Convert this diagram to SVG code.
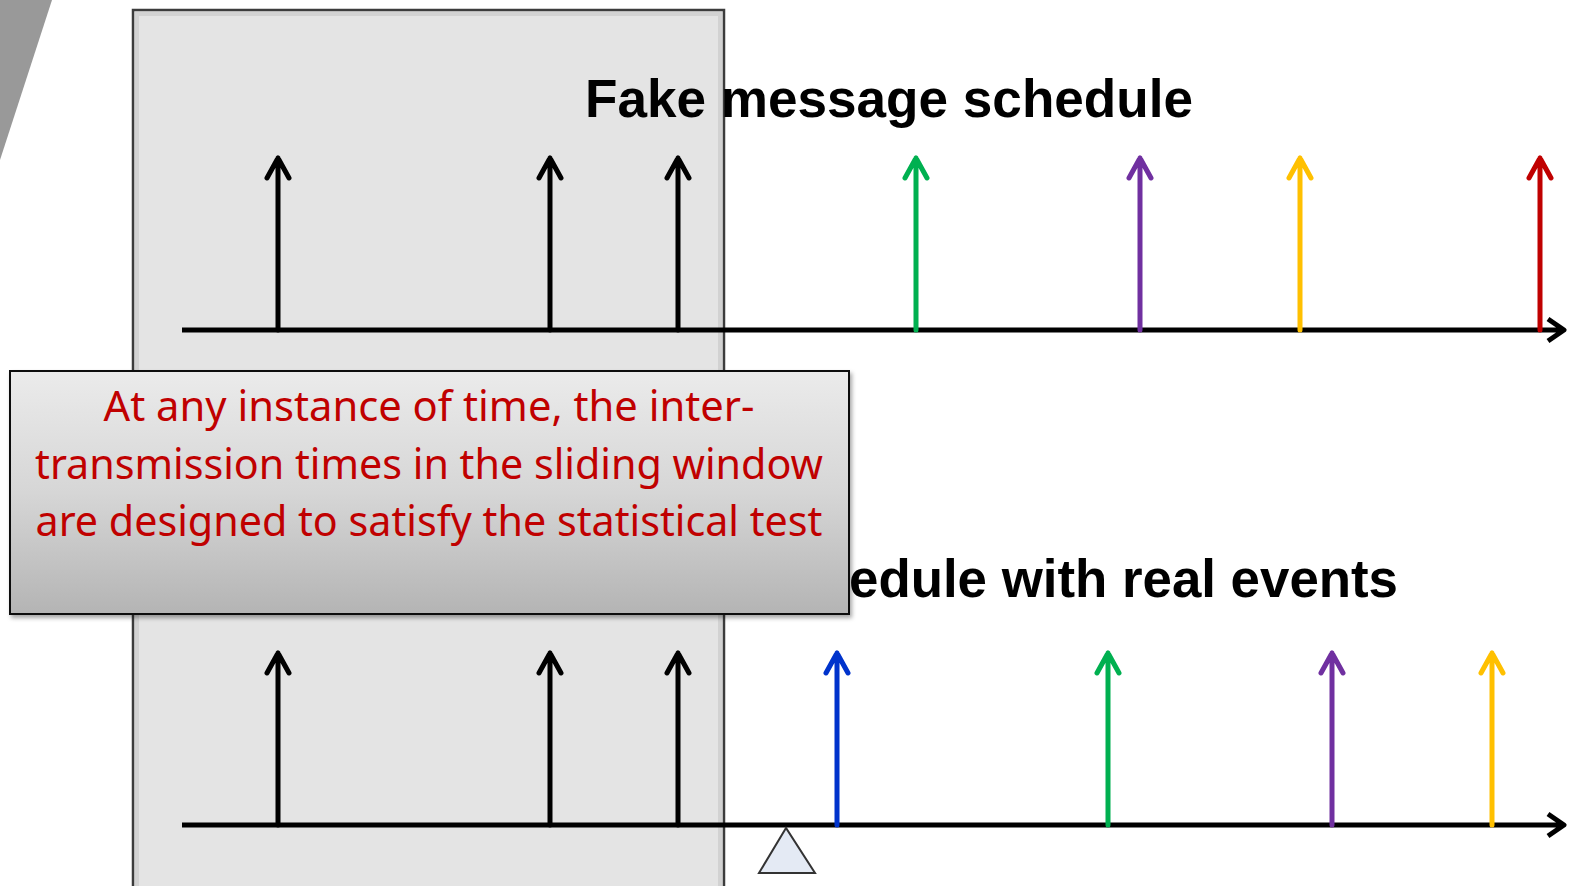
<svg xmlns="http://www.w3.org/2000/svg" width="1570" height="886" viewBox="0 0 1570 886">
<defs>
<linearGradient id="cg" x1="0" y1="0" x2="0" y2="1">
<stop offset="0" stop-color="#ebebeb"/>
<stop offset="0.5" stop-color="#d6d6d6"/>
<stop offset="1" stop-color="#b4b4b4"/>
</linearGradient>
<filter id="sh" x="-5%" y="-5%" width="110%" height="115%">
<feDropShadow dx="2" dy="3" stdDeviation="2" flood-color="#000" flood-opacity="0.35"/>
</filter>
<style>
.ar{fill:none;stroke-width:5;stroke-linecap:round;stroke-linejoin:round}
.ax{fill:none;stroke:#000;stroke-width:5;stroke-linecap:butt;stroke-linejoin:round}
.ttl{font-family:"Liberation Sans",Arial,sans-serif;font-weight:bold;font-size:53px;fill:#000}
.ct{font-family:"Noto Sans","Open Sans",sans-serif;font-size:41px;fill:#c00000;text-anchor:middle}
</style>
</defs>
<rect width="1570" height="886" fill="#fff"/>
<polygon points="0,0 52,0 0,160" fill="#999"/>
<g id="window">
<rect x="133" y="10" width="591" height="882" fill="#e4e4e4" stroke="#3c3c3c" stroke-width="2.5"/>
<rect x="137" y="14" width="583" height="874" fill="none" stroke="#d2d2d2" stroke-width="4"/>
</g>
<g id="title1"><text class="ttl" x="585" y="117" textLength="608" lengthAdjust="spacingAndGlyphs">Fake message schedule</text></g>
<g id="connectors">
<path class="ax" d="M182 330 H1564 M1548 319 L1564 330 L1548 341"/>
<path class="ax" d="M182 825 H1564 M1548 814 L1564 825 L1548 836"/>
<path class="ar" stroke="#000" d="M278 330 V158 M267 178 L278 158 L289 178"/>
<path class="ar" stroke="#000" d="M550 330 V158 M539 178 L550 158 L561 178"/>
<path class="ar" stroke="#000" d="M678 330 V158 M667 178 L678 158 L689 178"/>
<path class="ar" stroke="#00b050" d="M916 330 V158 M905 178 L916 158 L927 178"/>
<path class="ar" stroke="#7030a0" d="M1140 330 V158 M1129 178 L1140 158 L1151 178"/>
<path class="ar" stroke="#ffc000" d="M1300 330 V158 M1289 178 L1300 158 L1311 178"/>
<path class="ar" stroke="#c00000" d="M1540 330 V158 M1529 178 L1540 158 L1551 178"/>
<path class="ar" stroke="#000" d="M278 825 V653 M267 673 L278 653 L289 673"/>
<path class="ar" stroke="#000" d="M550 825 V653 M539 673 L550 653 L561 673"/>
<path class="ar" stroke="#000" d="M678 825 V653 M667 673 L678 653 L689 673"/>
<path class="ar" stroke="#0033cc" d="M837 825 V653 M826 673 L837 653 L848 673"/>
<path class="ar" stroke="#00b050" d="M1108 825 V653 M1097 673 L1108 653 L1119 673"/>
<path class="ar" stroke="#7030a0" d="M1332 825 V653 M1321 673 L1332 653 L1343 673"/>
<path class="ar" stroke="#ffc000" d="M1492 825 V653 M1481 673 L1492 653 L1503 673"/>
</g>
<g id="title2"><text class="ttl" x="1398" y="597" text-anchor="end" textLength="549" lengthAdjust="spacingAndGlyphs">edule with real events</text></g>
<g id="callout">
<rect x="10" y="371" width="839" height="243" fill="url(#cg)" stroke="#111" stroke-width="2" filter="url(#sh)"/>
<text class="ct" x="429" y="421" textLength="651" lengthAdjust="spacingAndGlyphs">At any instance of time, the inter-</text>
<text class="ct" x="429" y="479" textLength="788" lengthAdjust="spacingAndGlyphs">transmission times in the sliding window</text>
<text class="ct" x="429" y="536" textLength="787" lengthAdjust="spacingAndGlyphs">are designed to satisfy the statistical test</text>
</g>
<g id="marker">
<polygon points="786,828 759,873 815,873" fill="#e4eaf4" stroke="#333" stroke-width="2"/>
</g>
</svg>
